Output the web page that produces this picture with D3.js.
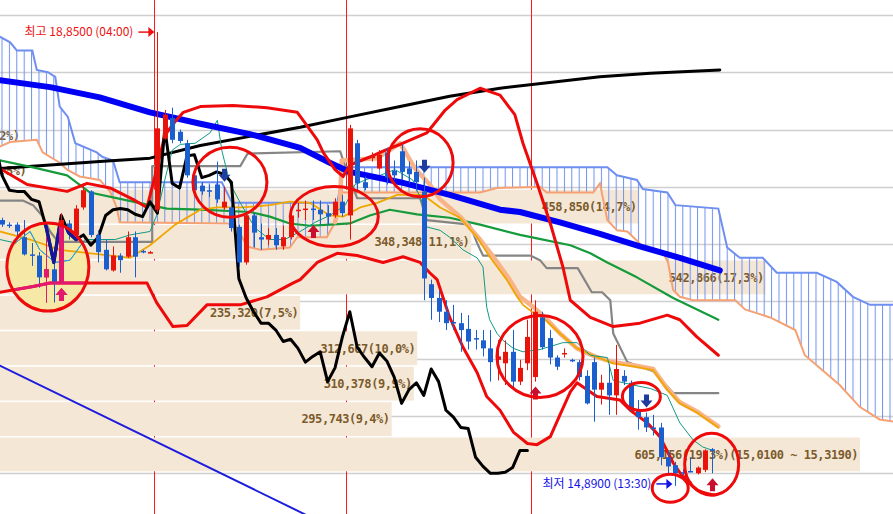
<!DOCTYPE html>
<html><head><meta charset="utf-8">
<script src="https://cdn.jsdelivr.net/npm/d3@7/dist/d3.min.js"></script>
<style>html,body{margin:0;padding:0;background:#fff;}svg{display:block;}</style>
</head><body>
<svg id="chart" width="893" height="514"></svg>
<script>
// ---------------- DATA ----------------
const opens  = [17.21,17.17,17.17,17.06,16.91,16.90,16.71,16.78,16.67,17.18,17.08,17.32,17.46,17.08,16.95,16.77,16.90,16.89,17.06,16.94,16.93,
  17.30,17.92,18.10,17.98,17.88,17.60,17.51,17.47,17.52,17.32,17.32,17.15,16.84,17.25,17.06,17.04,17.08,16.98,17.06,17.29,17.30,17.31,17.30,17.27,17.25,17.37,
  17.25,17.88,17.54,17.75,17.66,17.80,17.64,17.81,17.66,17.63,17.46,16.65,16.53,16.41,16.32,16.31,16.26,16.18,16.16,16.09,15.99,15.96,16.06,15.80,15.96,
  15.84,16.36,16.18,16.01,16.04,15.99,15.97,15.85,15.97,15.73,15.79,15.68,15.85,15.79,15.55,15.49,15.40,15.40,15.14,15.07,15.01,15.02,15.00,15.03,15.21];
const highs  = [17.23,17.19,17.19,17.21,17.01,16.93,17.06,16.84,17.27,17.21,17.34,17.53,17.47,17.12,17.04,16.98,16.92,17.11,17.11,16.95,16.94,
  18.85,18.17,18.19,18.00,17.91,17.63,17.54,17.52,17.72,17.50,17.34,17.17,17.28,17.27,17.18,17.14,17.14,17.16,17.28,17.36,17.38,17.38,17.38,17.34,17.40,17.43,
  18.04,17.91,17.59,17.80,17.82,17.84,17.73,17.87,17.72,17.73,17.58,16.69,16.60,16.51,16.47,16.40,16.38,16.25,16.25,16.25,16.16,16.16,16.25,15.99,16.34,
  16.51,16.41,16.25,16.03,16.09,16.00,15.99,15.90,16.01,15.86,15.95,16.12,15.90,15.81,15.64,15.53,15.51,15.44,15.20,15.10,15.04,15.14,15.06,15.21,15.22];
const lows   = [17.15,17.14,17.07,16.90,16.81,16.62,16.49,16.49,16.66,17.04,17.05,17.30,17.06,16.84,16.77,16.76,16.75,16.88,16.71,16.92,16.92,
  17.28,17.91,17.88,17.88,17.58,17.45,17.43,17.41,17.36,17.30,17.11,16.80,16.82,16.97,16.95,16.99,16.95,16.95,17.04,17.23,17.21,17.21,17.17,17.17,17.23,17.24,
  17.04,17.47,17.47,17.72,17.65,17.52,17.56,17.56,17.53,17.47,16.51,16.34,16.32,16.25,16.25,16.06,16.08,16.08,16.02,15.80,15.81,15.77,15.73,15.77,15.90,
  15.80,16.08,15.95,15.90,16.01,15.97,15.81,15.60,15.45,15.60,15.51,15.51,15.77,15.54,15.38,15.36,15.33,15.07,14.99,14.89,14.98,15.01,14.99,15.01,15.00];
const closes = [17.17,17.16,17.11,16.91,16.90,16.71,16.78,16.67,17.21,17.11,17.31,17.47,17.08,16.93,16.78,16.90,16.86,17.06,16.89,16.93,16.93,
  18.01,18.13,17.91,17.90,17.60,17.47,17.46,17.46,17.39,17.37,17.14,16.84,17.25,17.10,17.04,17.08,16.99,17.06,17.25,17.30,17.31,17.30,17.26,17.24,17.37,17.27,
  18.01,17.53,17.49,17.77,17.78,17.58,17.60,17.63,17.61,17.54,16.70,16.53,16.41,16.31,16.31,16.25,16.15,16.17,16.09,15.97,16.02,16.06,15.80,15.92,16.19,
  16.41,16.10,16.01,15.93,16.05,15.98,15.84,15.61,15.73,15.79,15.68,15.91,15.80,15.55,15.49,15.40,15.39,15.14,15.06,15.00,15.00,15.01,15.05,15.20,15.20];

const highIndex = 21, lowIndex = 91;
const highLabelTime = "04:00", lowLabelTime = "13:30";
const buySignals  = [8, 42, 72, 96];
const sellSignals = [30, 57, 87];
const sessionBreaks = [20.5, 46.5, 71.5];
const gridPrices = [15.0,15.5,16.0,16.5,17.0,17.5,18.0,18.5,19.0];

// volume-at-price profile
const volFrom   = [15.010,15.319,15.628,15.937,16.246,16.555,16.864,17.173,17.482,17.791];
const volTo     = [15.319,15.628,15.937,16.246,16.555,16.864,17.173,17.482,17.791,18.100];
const volAmount = [605156,295743,310378,312667,235320,542866,348348,458850,15674,6270];
const volPct    = [19.3,9.4,9.9,10.0,7.5,17.3,11.1,14.7,0.5,0.2];

// overlay lines: [candle index, price]
const maBlue = [[-0.3,18.43],[6.5,18.37],[13.2,18.28],[20,18.15],[26.8,18.05],[33.5,17.96],[40.3,17.84],[44.3,17.71],[47,17.63],[53.8,17.54],[60.5,17.43],[67.3,17.30],[70,17.28],[75.4,17.19],[80.8,17.09],[86.2,16.98],[91.6,16.88],[97,16.77]];
const maBlack = [[-0.3,17.66],[6.5,17.69],[13.2,17.72],[20,17.75],[26.8,17.86],[33.5,17.94],[40.3,18.02],[47,18.11],[53.8,18.20],[60.5,18.29],[67.3,18.36],[74,18.41],[80.8,18.46],[87.6,18.49],[97,18.52]];
const maGreen = [[-0.3,17.73],[4.2,17.67],[8.8,17.60],[11.9,17.45],[17.7,17.37],[22.3,17.31],[26.8,17.30],[33.5,17.28],[36.2,17.24],[38.9,17.18],[41.6,17.16],[44.3,17.17],[47,17.18],[49.7,17.25],[52.4,17.30],[56.1,17.26],[60.5,17.23],[64.6,17.17],[70,17.08],[72.3,17.05],[76.8,16.99],[79.5,16.92],[81.8,16.84],[85.8,16.71],[90.7,16.53],[96.8,16.34]];
const kijun = [[-0.3,17.38],[2.8,17.38],[4.2,17.34],[5.4,17.25],[6.5,17.11],[7.6,17.02],[20.3,17.02],[20.3,17.68],[32.2,17.68],[33.2,17.79],[45.7,17.81],[46.1,17.73],[48,17.40],[56.5,17.40],[57.4,17.21],[63.2,17.17],[64.2,17.01],[65,16.90],[71.4,16.90],[72.7,16.86],[73.6,16.79],[77.8,16.79],[79.7,16.58],[81.1,16.58],[82.2,16.51],[82.6,16.22],[84.5,15.97],[88,15.89],[90.7,15.70],[96.8,15.70]];
const bbUpper = [[-0.3,17.66],[3.4,17.52],[8.8,17.46],[11.5,17.53],[14.6,17.49],[17.7,17.39],[19.6,17.32],[20.7,17.60],[22,17.95],[23.4,18.07],[24.5,18.15],[26.8,18.20],[31.2,18.21],[35.8,18.19],[39.9,18.15],[40.7,18.08],[42.6,17.91],[43.4,17.80],[45,17.65],[46.1,17.59],[47,17.69],[49.7,17.76],[51.8,17.82],[53.8,17.87],[57.4,17.97],[59.9,18.17],[61.5,18.26],[64.6,18.36],[67.3,18.30],[69.3,18.13],[70.4,17.88],[72.3,17.53],[74.1,17.18],[75.8,16.80],[76.8,16.51],[79.5,16.36],[82.6,16.28],[86.2,16.31],[89.9,16.38],[91.6,16.34],[93.9,16.19],[96.8,16.03]];
const bbMiddle = [[-0.3,17.11],[3.8,17.04],[7.8,16.95],[13.2,16.91],[17.3,16.88],[20,16.99],[23.4,17.17],[26.8,17.30],[29.1,17.32],[32.6,17.32],[36.2,17.34],[38.9,17.37],[41.6,17.36],[44.3,17.25],[46.1,17.24],[48.4,17.32],[50.7,17.36],[53.4,17.43],[56.9,17.43],[59.2,17.32],[61.9,17.23],[64.2,17.06],[65.9,16.89],[68.2,16.69],[69.6,16.54],[70.4,16.47],[71.8,16.40],[73.4,16.34],[75.4,16.22],[77.7,16.09],[80.1,16.02],[82.6,15.96],[85.5,15.93],[88,15.90],[89.9,15.73],[91.6,15.61],[93.9,15.53],[96.8,15.40]];
const bbLower = [[-0.3,16.58],[4.2,16.63],[6.5,16.66],[14.6,16.66],[19.6,16.66],[20.9,16.49],[23.1,16.28],[25,16.29],[27.7,16.47],[32.2,16.47],[35.8,16.54],[39.3,16.66],[40.3,16.69],[42.6,16.84],[45.3,16.92],[48,16.90],[51.5,16.84],[54.2,16.89],[56.5,16.84],[57.8,16.75],[58.8,16.69],[60.5,16.36],[62.3,16.10],[64.2,15.88],[65.5,15.67],[67.3,15.55],[69.1,15.36],[71,15.26],[72.3,15.25],[74.1,15.32],[75.4,15.51],[76.8,15.71],[77.7,15.79],[80.4,15.67],[83.5,15.64],[84.9,15.55],[87.2,15.44],[88.9,15.32],[90.7,15.09],[92,14.97],[93,14.92]];
const tenkan = [[45,17.19],[45.7,17.39],[45.9,17.73],[50.7,17.75],[53.8,17.88],[55.8,17.66],[57.8,17.52],[59.2,17.39],[61.9,17.24],[64.6,17.04],[66.4,16.89],[68.6,16.69],[70,16.54],[71.8,16.45],[73.4,16.36],[75.4,16.22],[77.7,16.09],[80.1,16.02],[82.6,15.97],[85.5,15.94],[88,15.91],[89.9,15.74],[91.6,15.62],[93.9,15.54],[96.8,15.41]];
const maShort = [[-0.3,17.04],[1.8,17.01],[3.8,17.11],[5.1,16.95],[7.2,16.84],[9.2,16.86],[11.2,17.04],[13.2,17.04],[15.3,17.04],[17.3,17.08],[20,17.11],[20.9,17.25],[22,17.56],[23,17.82],[24.1,17.87],[26.1,17.88],[28.1,17.97],[29.1,18.08],[29.7,17.82],[30.8,17.53],[32.2,17.36],[34.2,17.14],[36.2,17.04],[38.2,17.04],[40.3,17.11],[42.3,17.19],[44.3,17.25],[46.4,17.34],[47.7,17.52],[49.1,17.56],[51.1,17.60],[53.1,17.65],[55.5,17.56],[56.8,17.36],[57.4,17.15],[59.2,17.12],[60.5,17.06],[62.3,16.95],[64.2,16.88],[65,16.80],[65.5,16.45],[65.9,16.34],[66.9,16.22],[67.7,16.16],[69.1,16.09],[70.4,16.06],[72.7,16.08],[75.8,16.14],[77.7,16.14],[79.5,16.03],[81.8,16.01],[82.6,15.81],[85.3,15.77],[87.6,15.74],[89.9,15.68],[91.6,15.44],[93.4,15.29],[94.7,15.23],[96,15.20]];
const cloudTop = [[-0.3,18.81],[1.1,18.76],[2,18.69],[4.1,18.69],[4.7,18.52],[6.2,18.50],[7.2,18.46],[7.8,18.20],[8.9,18.11],[9.9,17.88],[12.8,17.80],[13.6,17.76],[15,17.73],[15.9,17.54],[29.7,17.54],[31.1,17.36],[45.3,17.36],[45.9,17.56],[46.6,17.67],[81.8,17.67],[83.1,17.60],[85.8,17.56],[86.6,17.48],[89.9,17.45],[91,17.34],[96.8,17.31],[98,16.97],[99.7,16.88],[102.8,16.88],[104.7,16.75],[110.1,16.75],[112.8,16.67],[115,16.54],[117.3,16.47],[120.6,16.47]];
const cloudBottom = [[-0.3,17.85],[1.1,17.89],[4.7,17.91],[5.5,17.80],[7.8,17.71],[8.8,17.65],[10.5,17.59],[13.2,17.56],[14.6,17.46],[15.5,17.32],[15.9,17.19],[30.5,17.18],[31.8,17.14],[33.1,16.98],[34.9,16.95],[38.9,16.97],[39.9,17.06],[43.9,17.06],[45,17.19],[45.9,17.45],[64.6,17.45],[66.9,17.49],[72.7,17.50],[73.6,17.45],[79.9,17.45],[80.8,17.53],[81.8,17.21],[83.1,17.12],[84.5,17.11],[86.6,16.98],[89.3,16.93],[90,16.84],[90.7,16.60],[91.6,16.54],[93.4,16.51],[99.1,16.51],[100.4,16.43],[103.8,16.36],[107.2,16.25],[108.5,16.03],[113.2,15.77],[115.9,15.58],[118.6,15.47],[120.6,15.45]];
const chikouShift = 25;
const trendLine = [[-0.3,15.94],[41,14.64]];

// hand-drawn annotations: ellipses [index, price, rx, ry] and a stroke tail [index, price]
const circleMarks = [[6.2,16.80,41,44],[30.8,17.54,37,35],[44.9,17.24,44,30],[56.5,17.71,33,34],[72.7,16.02,43,41],[86.4,15.67,19,14],[90.3,14.87,18,14],[95.9,15.08,27,31]];
const circleTail = [[92.2,14.97],[93.3,14.88],[94.6,14.83],[96.3,14.81]];
const highlight = [6.2,16.80,41,44];

// ---------------- CHART ----------------
const W = 893, H = 514;
const svg = d3.select("#chart");
const xS = d3.scaleLinear().domain([0, 96]).range([2, 712.4]);
const yS = d3.scaleLinear().domain([15.5, 17.5]).range([416, 186.8]);
const xV = d3.scaleLinear().domain([0, d3.max(volAmount)]).range([-56, 860]);
const dec = (v, n) => v.toFixed(n).replace(".", ",");
const thou = d3.format(",");
const line = d3.line().x(d => xS(d[0])).y(d => yS(d[1]));

const RED = "#e8140c", BLUE = "#1b5fcf", PINK = "#e3196f", NAVY = "#16169a";

const defs = svg.append("defs");
defs.append("pattern").attr("id", "hatch").attr("patternUnits", "userSpaceOnUse")
  .attr("x", xS(0) - 0.5).attr("y", 0).attr("width", xS(1) - xS(0)).attr("height", 20)
  .append("line").attr("x1", 0.5).attr("x2", 0.5).attr("y1", 0).attr("y2", 20)
  .attr("stroke", "#6f8ff0").attr("stroke-width", 1);
defs.append("clipPath").attr("id", "hl").append("ellipse")
  .attr("cx", xS(highlight[0])).attr("cy", yS(highlight[1]))
  .attr("rx", highlight[2] - 1).attr("ry", highlight[3] - 1);

// grid
svg.append("g").selectAll("line").data(gridPrices).join("line")
  .attr("x1", 0).attr("x2", W)
  .attr("y1", d => Math.round(yS(d)) + 0.5).attr("y2", d => Math.round(yS(d)) + 0.5)
  .attr("stroke", "#cfcfcf").attr("stroke-width", 1.3);

// session markers
svg.append("g").selectAll("line").data(sessionBreaks).join("line")
  .attr("x1", d => Math.round(xS(d)) + 0.5).attr("x2", d => Math.round(xS(d)) + 0.5)
  .attr("y1", 0).attr("y2", H).attr("stroke", "#ff1a1a").attr("stroke-width", 1);

// volume profile
const vg = svg.append("g");
volAmount.forEach((v, i) => {
  const y0 = yS(volTo[i]), y1 = yS(volFrom[i]);
  vg.append("rect").attr("x", xV(0)).attr("y", y0 + 0.8)
    .attr("width", Math.max(0, xV(v) - xV(0))).attr("height", y1 - y0 - 1.6)
    .attr("fill", "#f5e7d5");
});
const maxI = volAmount.indexOf(d3.max(volAmount));
volAmount.forEach((v, i) => {
  let txt = thou(v) + "(" + dec(volPct[i], 1) + "%)";
  if (i === maxI) txt += "(" + dec(volFrom[i], 4) + " ~ " + dec(volTo[i], 4) + ")";
  const t = vg.append("text").text(txt)
    .attr("y", (yS(volTo[i]) + yS(volFrom[i])) / 2)
    .attr("dy", "0.36em")
    .attr("font-family", "DejaVu Sans Mono").attr("font-weight", "bold")
    .attr("font-size", 12).attr("letter-spacing", -0.45)
    .attr("fill", "#7b5b2c");
  const w = t.node().getComputedTextLength();
  const barW = xV(v) - xV(0);
  if (barW > w + 6) t.attr("x", xV(v) - 2).attr("text-anchor", "end");
  else t.attr("x", xV(0) + 1).attr("text-anchor", "start");
});

// highlight fill
svg.append("ellipse").attr("cx", xS(highlight[0])).attr("cy", yS(highlight[1]))
  .attr("rx", highlight[2]).attr("ry", highlight[3]).attr("fill", "#f6e9a7");

// ichimoku cloud
const cloudPath = line(cloudTop.concat(cloudBottom.slice().reverse())) + "Z";
svg.append("path").attr("d", cloudPath).attr("fill", "url(#hatch)");
svg.append("path").attr("d", line(cloudBottom)).attr("fill", "none").attr("stroke", "#f6a173").attr("stroke-width", 2);
svg.append("path").attr("d", line(cloudTop)).attr("fill", "none").attr("stroke", "#6f8ff0").attr("stroke-width", 2);

function drawLine(g, data, color, width) {
  return g.append("path").attr("d", line(data)).attr("fill", "none")
    .attr("stroke", color).attr("stroke-width", width)
    .attr("stroke-linejoin", "round").attr("stroke-linecap", "round");
}
const chikou = closes.map((c, i) => [i - chikouShift, c]);

const lg = svg.append("g");
drawLine(lg, maBlack, "#000", 3);
drawLine(lg, maGreen, "#159a3c", 2.2);
drawLine(lg, kijun, "#858585", 2.2);
drawLine(lg, tenkan, "#f8b488", 4.5);
drawLine(lg, bbMiddle, "#f0a600", 1.8);
drawLine(lg, maShort, "#109a84", 1);
drawLine(lg, maBlue, "#0000f5", 6);
drawLine(lg, bbUpper, "#ee0a0a", 3);
drawLine(lg, bbLower, "#ee0a0a", 3);
drawLine(lg, chikou, "#000", 3);
drawLine(lg, trendLine, "#1c1cdc", 2);

// candles
function drawCandles(g, up, down) {
  opens.forEach((o, i) => {
    const c = closes[i], col = c >= o ? up : down;
    if (!col) return;
    const x = Math.round(xS(i));
    g.append("line").attr("x1", x + 0.5).attr("x2", x + 0.5)
      .attr("y1", yS(highs[i])).attr("y2", yS(lows[i]))
      .attr("stroke", col).attr("stroke-width", 1);
    const yt = yS(Math.max(o, c)), yb = yS(Math.min(o, c));
    g.append("rect").attr("x", x - 2).attr("y", yt)
      .attr("width", 5).attr("height", Math.max(1.5, yb - yt)).attr("fill", col);
  });
}
drawCandles(svg.append("g"), RED, BLUE);

// signal arrows
function upArrow(g, i, col) {
  const x = Math.round(xS(i)) + 0.5, t = yS(lows[i]) + 5;
  g.append("path").attr("fill", col)
    .attr("d", `M${x},${t} L${x + 6},${t + 7} L${x + 2.5},${t + 7} L${x + 2.5},${t + 13} L${x - 2.5},${t + 13} L${x - 2.5},${t + 7} L${x - 6},${t + 7}Z`);
}
function downArrow(g, i, col) {
  const x = Math.round(xS(i)) + 0.5, b = yS(highs[i]) - 5;
  g.append("path").attr("fill", col)
    .attr("d", `M${x},${b} L${x + 6},${b - 7} L${x + 2.5},${b - 7} L${x + 2.5},${b - 13} L${x - 2.5},${b - 13} L${x - 2.5},${b - 7} L${x - 6},${b - 7}Z`);
}
const ag = svg.append("g");
buySignals.forEach(i => upArrow(ag, i, "#c8102e"));
sellSignals.forEach(i => downArrow(ag, i, "#1f3c9e"));

// highlight recolouring
const hg = svg.append("g").attr("clip-path", "url(#hl)");
drawLine(hg, maShort, "#3aa0e8", 1);
drawLine(hg, bbLower, PINK, 3);
drawLine(hg, chikou, NAVY, 3.4);
drawCandles(hg, PINK, null);
buySignals.forEach(i => upArrow(hg, i, PINK));

// annotation ellipses
svg.append("g").selectAll("ellipse").data(circleMarks).join("ellipse")
  .attr("cx", d => xS(d[0])).attr("cy", d => yS(d[1]))
  .attr("rx", d => d[2]).attr("ry", d => d[3])
  .attr("fill", "none").attr("stroke", "#ee0a0a").attr("stroke-width", 3);
svg.append("path").attr("d", d3.line().curve(d3.curveBasis).x(d => xS(d[0])).y(d => yS(d[1]))(circleTail))
  .attr("fill", "none").attr("stroke", "#ee0a0a").attr("stroke-width", 3).attr("stroke-linecap", "round");

// high / low labels
function marker(i, price, txt, col, yOff) {
  const x = xS(i), y = yS(price) + yOff;
  svg.append("text").text(txt).attr("x", x - 24).attr("y", y).attr("dy", "0.36em")
    .attr("text-anchor", "end").attr("font-family", "Noto Sans CJK KR, sans-serif")
    .attr("font-size", 12).attr("fill", col);
  svg.append("line").attr("x1", x - 19).attr("x2", x - 7).attr("y1", y).attr("y2", y)
    .attr("stroke", col).attr("stroke-width", 1.5);
  svg.append("path").attr("d", `M${x - 3},${y} L${x - 9},${y - 5} L${x - 9},${y + 5}Z`).attr("fill", col);
}
marker(highIndex, highs[highIndex], "최고 " + dec(highs[highIndex], 4) + " (" + highLabelTime + ")", "#ee1111", 0);
marker(lowIndex, lows[lowIndex], "최저 " + dec(lows[lowIndex], 4) + " (" + lowLabelTime + ")", "#1414e6", -2);
</script>
</body></html>
